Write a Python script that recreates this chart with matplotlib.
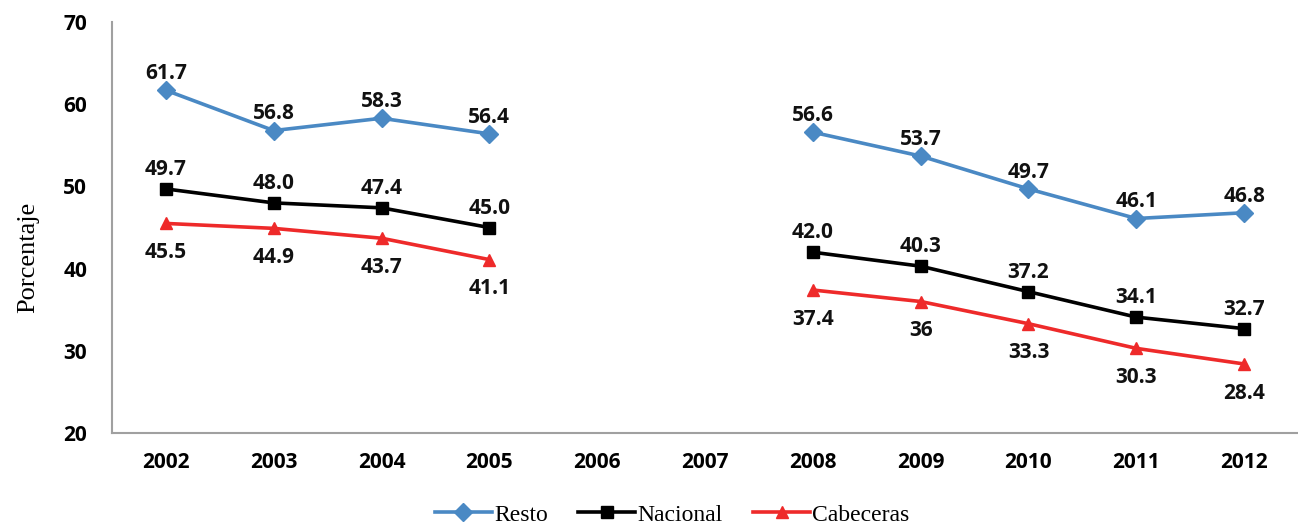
import numpy as np
import matplotlib.pyplot as plt

# datos
years = ["2002", "2003", "2004", "2005", "2006", "2007", "2008", "2009", "2010", "2011", "2012"]
resto = [61.7, 56.8, 58.3, 56.4, np.nan, np.nan, 56.6, 53.7, 49.7, 46.1, 46.8]
nacional = [49.7, 48.0, 47.4, 45.0, np.nan, np.nan, 42.0, 40.3, 37.2, 34.1, 32.7]
cabeceras = [45.5, 44.9, 43.7, 41.1, np.nan, np.nan, 37.4, 36.0, 33.3, 30.3, 28.4]

series = [
    ("Resto", resto, "#4A89C4", "D", 9, 12, "{:.1f}"),
    ("Nacional", nacional, "black", "s", 8.5, 14, "{:.1f}"),
    ("Cabeceras", cabeceras, "#EE2A2A", "^", 9, -21, "{:g}"),
]

fig = plt.figure(figsize=(12.98, 5.26), dpi=100)
ax = fig.add_axes([0.0863, 0.1768, 0.9137, 0.7812])

x = np.arange(len(years))
for name, vals, col, mk, ms, off, fmt in series:
    ax.plot(x, vals, color=col, lw=2.6, marker=mk, markersize=ms, label=name)
    for i, v in enumerate(vals):
        if np.isnan(v):
            continue
        ax.annotate(fmt.format(v), (i, v), xytext=(0, off), textcoords="offset points",
                    ha="center", va="center", fontsize=15, fontweight="bold",
                    family="Open Sans", color="#111111")

ax.set_xlim(-0.5, len(years) - 0.5)
ax.set_ylim(20, 70)
ax.set_yticks([20, 30, 40, 50, 60, 70])
ax.set_xticks(x)
ax.set_xticklabels(years)
for lab in ax.get_xticklabels() + ax.get_yticklabels():
    lab.set_family("Open Sans")
    lab.set_fontweight("bold")
    lab.set_fontsize(15)
ax.tick_params(axis="x", length=0, pad=14)
ax.tick_params(axis="y", length=0, pad=18)

for s in ["top", "right"]:
    ax.spines[s].set_visible(False)
for s in ["left", "bottom"]:
    ax.spines[s].set_color("#A0A0A0")
    ax.spines[s].set_linewidth(1.5)

fig.text(0.022, 0.51, "Porcentaje", rotation=90, ha="center", va="center",
         family="Liberation Serif", fontsize=19)

fig.legend(loc="center", bbox_to_anchor=(0.518, 0.021), ncol=3, frameon=False,
           prop={"family": "Liberation Serif", "size": 17}, handlelength=2.4,
           handletextpad=0.1, columnspacing=1.3)

fig.savefig("out.png", dpi=100)
